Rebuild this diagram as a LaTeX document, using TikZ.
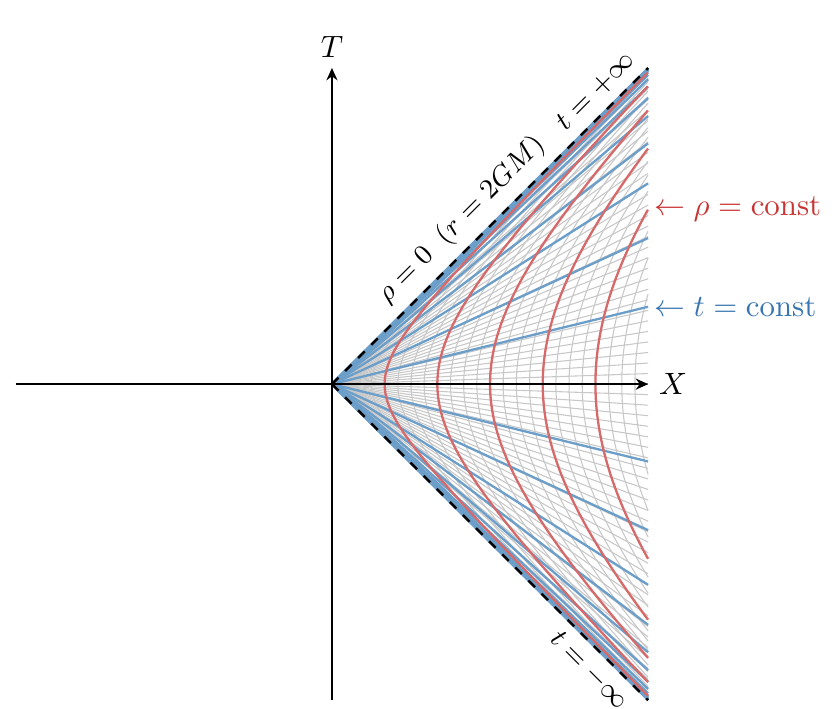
\documentclass[tikz,border=0pt]{standalone}
\usepackage{tikz}
\usepackage{amsmath}
\usepackage{xcolor}
\usetikzlibrary{arrows.meta}

\definecolor{rholine}{RGB}{214,106,106}
\definecolor{tline}{RGB}{108,158,202}
\definecolor{rhotext}{RGB}{200,52,52}
\definecolor{ttext}{RGB}{56,116,176}
\definecolor{gridline}{RGB}{200,200,200}

\begin{document}
\begin{tikzpicture}[x=0.6cm,y=0.6cm,
  gridstyle/.style={gridline,line width=0.35pt},
  rhostyle/.style={rholine,line width=0.75pt},
  tstyle/.style={tline,line width=0.75pt},
  axis/.style={thick,-{Stealth[length=4pt,width=3.6pt]}},
  horizon/.style={font=\small,sloped},
  sidelab/.style={right,inner sep=1.8pt}]
\useasboundingbox (-6.30,-6.15) rectangle (9.49,7.29);
\coordinate (O) at (0,0);
\coordinate (ne) at (6,6);
\coordinate (se) at (6,-6);
\coordinate (xl) at (-6,0);
\coordinate (xr) at (6,0);
\coordinate (tb) at (0,-6);
\coordinate (tt) at (0,6);
% grey mesh
\foreach \r in {0.25,0.5,...,5.8} {
  \pgfmathsetmacro{\a}{ln(6/\r+sqrt(36/(\r*\r)-1))}
  \draw[gridstyle] plot[domain=-\a:\a,samples=80,smooth] ({\r*cosh(\x)},{\r*sinh(\x)});
}
\foreach \k in {-29,...,29}
  \draw[gridstyle] (O) -- (6,{0.2*\k});
% t = const
\foreach \k in {-16,...,16} {
  \pgfmathsetmacro{\e}{6*tanh(0.25*\k)}
  \draw[tstyle] (O) -- (6,\e);
}
% rho = const
\foreach \r in {1,...,5} {
  \pgfmathsetmacro{\a}{ln(6/\r+sqrt(36/(\r*\r)-1))}
  \draw[rhostyle] plot[domain=-\a:\a,samples=100,smooth] ({\r*cosh(\x)},{\r*sinh(\x)});
}
% horizon
\draw[thick,dashed] (O) -- (ne);
\draw[thick,dashed] (O) -- (se);
\path (O) -- (ne)
  node[horizon,pos=0.465,above] (horlab) {$\rho=0\;\;(r=2GM)$}
  node[horizon,pos=0.88,above] (tplus) {$t=+\infty$};
\path (O) -- (se)
  node[horizon,pos=0.86,below] (tminus) {$t=-\infty$};
% axes
\draw[axis] (xl) -- (xr);
\draw[axis] (tb) -- (tt);
\node[right] (xlab) at (xr) {$X$};
\node[above] (tlab) at (tt) {$T$};
\node[sidelab,text=rhotext] (rholab) at (6,{sqrt(11)}) {$\leftarrow\rho=\mathrm{const}$};
\node[sidelab,text=ttext] (tlab2) at (6,{6*tanh(0.25)}) {$\leftarrow t=\mathrm{const}$};
\end{tikzpicture}
\end{document}
